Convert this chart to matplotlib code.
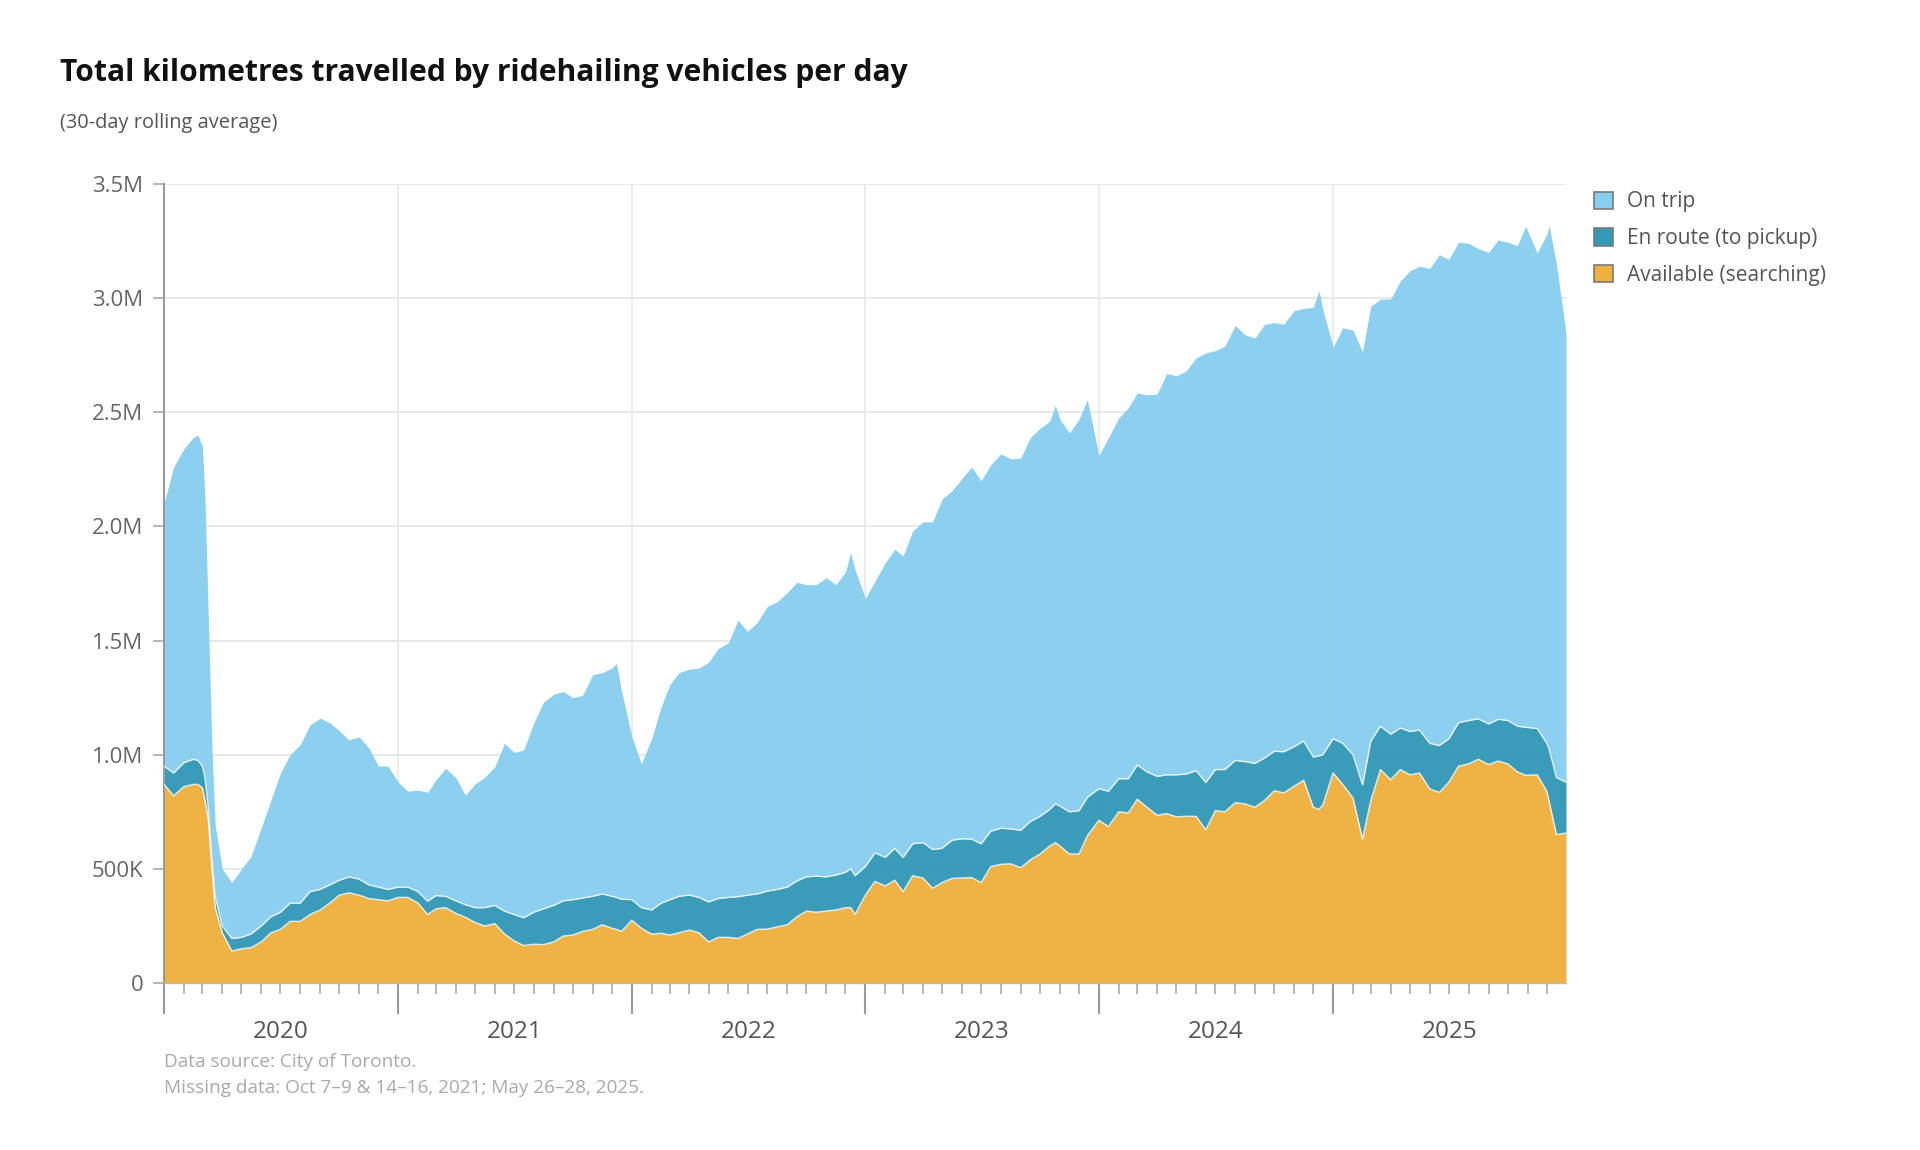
import numpy as np
import pandas as pd
import matplotlib
matplotlib.use("Agg")
import matplotlib.pyplot as plt
import matplotlib.dates as mdates
from matplotlib.patches import Patch
from matplotlib.ticker import FuncFormatter

plt.rcParams['font.family'] = ['Open Sans', 'DejaVu Sans']

# semi-monthly readings of the 30-day rolling average (thousands of km per day)
dates = pd.to_datetime([
    # 2020
    "2020-01-01", "2020-01-16", "2020-02-01", "2020-02-16", "2020-02-23", "2020-03-01", "2020-03-05",
    "2020-03-10", "2020-03-16", "2020-03-21", "2020-04-01", "2020-04-16", "2020-05-01", "2020-05-16",
    "2020-06-01", "2020-06-16", "2020-07-01", "2020-07-16", "2020-08-01", "2020-08-16", "2020-09-01",
    "2020-09-16", "2020-10-01", "2020-10-16", "2020-11-01", "2020-11-16", "2020-12-01", "2020-12-16",
    # 2021
    "2021-01-01", "2021-01-16", "2021-02-01", "2021-02-16", "2021-03-01", "2021-03-16", "2021-04-01",
    "2021-04-16", "2021-05-01", "2021-05-16", "2021-06-01", "2021-06-16", "2021-07-01", "2021-07-16",
    "2021-08-01", "2021-08-16", "2021-09-01", "2021-09-16", "2021-10-01", "2021-10-16", "2021-11-01",
    "2021-11-16", "2021-12-01", "2021-12-08", "2021-12-16",
    # 2022
    "2022-01-01", "2022-01-16", "2022-02-01", "2022-02-16", "2022-03-01", "2022-03-16", "2022-04-01",
    "2022-04-16", "2022-05-01", "2022-05-16", "2022-06-01", "2022-06-16", "2022-07-01", "2022-07-16",
    "2022-08-01", "2022-08-16", "2022-09-01", "2022-09-16", "2022-10-01", "2022-10-16", "2022-11-01",
    "2022-11-16", "2022-12-01", "2022-12-09", "2022-12-16",
    # 2023
    "2023-01-01", "2023-01-16", "2023-02-01", "2023-02-16", "2023-03-01", "2023-03-16", "2023-04-01",
    "2023-04-16", "2023-05-01", "2023-05-16", "2023-06-01", "2023-06-16", "2023-07-01", "2023-07-16",
    "2023-08-01", "2023-08-16", "2023-09-01", "2023-09-16", "2023-10-01", "2023-10-16", "2023-10-25",
    "2023-11-01", "2023-11-16", "2023-12-01", "2023-12-14",
    # 2024
    "2024-01-01", "2024-01-16", "2024-02-01", "2024-02-16", "2024-03-01", "2024-03-16", "2024-04-01",
    "2024-04-16", "2024-05-01", "2024-05-16", "2024-06-01", "2024-06-16", "2024-07-01", "2024-07-16",
    "2024-08-01", "2024-08-16", "2024-09-01", "2024-09-16", "2024-10-01", "2024-10-16", "2024-11-01",
    "2024-11-16", "2024-12-01", "2024-12-10", "2024-12-16",
    # 2025
    "2025-01-01", "2025-01-16", "2025-02-01", "2025-02-16", "2025-03-01", "2025-03-16", "2025-04-01",
    "2025-04-16", "2025-05-01", "2025-05-16", "2025-06-01", "2025-06-16", "2025-07-01", "2025-07-16",
    "2025-08-01", "2025-08-16", "2025-09-01", "2025-09-16", "2025-10-01", "2025-10-16", "2025-10-29",
    "2025-11-16", "2025-12-01", "2025-12-05", "2025-12-16", "2025-12-31",
])

available = [
    870, 820, 860, 870, 870, 855, 800, 720, 500, 330, 220, 140, 150, 155, 180, 220, 235, 270, 270, 300,
    320, 350, 385, 395, 385, 370, 365, 360,
    375, 375, 350, 300, 325, 330, 305, 288, 265, 250, 260, 215, 185, 164, 170, 168, 180, 206, 210, 226,
    235, 255, 240, 235, 226,
    275, 240, 214, 218, 210, 220, 232, 220, 180, 200, 200, 195, 215, 235, 236, 246, 255, 290, 315, 310,
    315, 320, 330, 330, 300,
    385, 445, 425, 450, 400, 470, 460, 415, 440, 458, 460, 462, 440, 510, 520, 522, 505, 540, 565, 600,
    615, 600, 565, 565, 645,
    713, 685, 750, 745, 805, 770, 735, 742, 728, 730, 730, 671, 755, 750, 790, 785, 770, 800, 842, 833,
    862, 888, 770, 760, 780,
    920, 870, 810, 630, 800, 935, 890, 935, 912, 920, 850, 835, 880, 950, 960, 980, 957, 972, 960, 925,
    910, 912, 840, 790, 650, 657,
]

en_route = [
    80, 100, 105, 110, 105, 95, 100, 55, 40, 50, 30, 55, 50, 60, 70, 70, 75, 80, 80, 100,
    90, 80, 65, 70, 70, 60, 55, 50,
    45, 45, 50, 58, 58, 50, 55, 55, 65, 80, 80, 100, 115, 122, 140, 157, 160, 154, 155, 146,
    145, 135, 140, 140, 141,
    90, 90, 106, 132, 154, 160, 153, 155, 175, 170, 175, 183, 170, 155, 167, 164, 165, 157, 150, 158,
    150, 153, 155, 170, 170,
    125, 125, 125, 140, 150, 140, 155, 170, 150, 167, 172, 168, 170, 155, 158, 153, 164, 168, 165, 160,
    170, 175, 185, 190, 168,
    138, 155, 145, 150, 150, 155, 170, 170, 184, 185, 200, 207, 180, 185, 185, 185, 192, 186, 173, 180,
    173, 172, 220, 235, 220,
    150, 180, 190, 238, 260, 190, 200, 182, 190, 188, 200, 205, 190, 190, 190, 177, 178, 183, 190, 200,
    210, 203, 210, 230, 250, 223,
]

on_trip = [
    1150, 1340, 1375, 1410, 1425, 1400, 1230, 845, 490, 310, 250, 245, 300, 340, 430, 510, 610, 650, 695, 730,
    750, 710, 655, 600, 623, 600, 530, 540,
    460, 420, 445, 477, 507, 560, 540, 480, 542, 570, 608, 735, 710, 734, 830, 905, 925, 917, 885, 888,
    970, 970, 1000, 1025, 913,
    715, 630, 750, 860, 941, 980, 990, 1005, 1050, 1095, 1115, 1212, 1155, 1190, 1247, 1260, 1290, 1308, 1280, 1277,
    1310, 1272, 1315, 1386, 1340,
    1175, 1190, 1290, 1310, 1320, 1370, 1405, 1435, 1530, 1530, 1578, 1630, 1590, 1605, 1640, 1621, 1631, 1682, 1700, 1700,
    1745, 1695, 1660, 1715, 1742,
    1459, 1550, 1580, 1625, 1630, 1651, 1675, 1758, 1748, 1765, 1808, 1882, 1835, 1855, 1905, 1870, 1863, 1899, 1878, 1873,
    1910, 1895, 1970, 2038, 1950,
    1715, 1820, 1860, 1897, 1905, 1871, 1906, 1958, 2018, 2032, 2080, 2150, 2100, 2105, 2090, 2060, 2065, 2100, 2095, 2105,
    2195, 2083, 2230, 2295, 2250, 1968,
]

labels = ["On trip", "En route (to pickup)", "Available (searching)"]
c_trip = "#88ceee"
c_route = "#3399b6"
c_avail = "#eeb13e"

a = np.array(available) * 1000.0
e = np.array(en_route) * 1000.0
o = np.array(on_trip) * 1000.0
top_a = a
top_e = a + e
top_o = a + e + o

fig = plt.figure(figsize=(19.2, 11.5), dpi=100)
ax = fig.add_axes([164 / 1920, 1 - 983 / 1150, (1566 - 164) / 1920, (983 - 184) / 1150])

ax.fill_between(dates, top_e, top_o, color=c_trip, alpha=0.97, lw=0, zorder=2)
ax.fill_between(dates, top_a, top_e, color=c_route, alpha=0.97, lw=0, zorder=2)
ax.fill_between(dates, 0, top_a, color=c_avail, alpha=0.97, lw=0, zorder=2)
ax.plot(dates, top_e, color="white", lw=1.0, alpha=0.8, zorder=3)
ax.plot(dates, top_a, color="white", lw=1.0, alpha=0.8, zorder=3)

ax.set_xlim(pd.Timestamp("2020-01-01"), pd.Timestamp("2025-12-31"))
ax.set_ylim(0, 3.5e6)

def fmt(v, pos):
    if v == 0:
        return "0"
    if v < 1e6:
        return f"{v / 1e3:.0f}K"
    return f"{v / 1e6:.1f}M"

ax.set_yticks(np.arange(0, 3.5e6 + 1, 5e5))
ax.yaxis.set_major_formatter(FuncFormatter(fmt))

ax.xaxis.set_major_locator(mdates.YearLocator())
ax.xaxis.set_minor_locator(mdates.MonthLocator(bymonth=range(2, 13)))
ax.xaxis.set_major_formatter(plt.NullFormatter())

ax.set_axisbelow(True)
ax.grid(axis="y", color="#e4e4e4", lw=1.2)
ax.grid(axis="x", which="major", color="#e8e8e8", lw=1.2)

for s in ["top", "right"]:
    ax.spines[s].set_visible(False)
ax.spines["left"].set_color("#9a9a9a")
ax.spines["left"].set_linewidth(1.5)
ax.spines["bottom"].set_color("#bbbbbb")
ax.spines["bottom"].set_linewidth(1.0)

ax.tick_params(axis="y", length=8, width=1.2, color="#aaaaaa", labelsize=16, labelcolor="#666666", pad=7)
ax.tick_params(axis="x", which="major", length=22, width=1.5, color="#9a9a9a")
ax.tick_params(axis="x", which="minor", length=8, width=1.2, color="#aaaaaa")

for yr in range(2020, 2026):
    ax.text(pd.Timestamp(f"{yr}-07-02"), -0.061, str(yr), transform=ax.get_xaxis_transform(),
            ha="center", va="center", fontsize=17.5, color="#555555")

fig.text(60 / 1920, 1 - 73 / 1150, "Total kilometres travelled by ridehailing vehicles per day",
         fontsize=21.6, fontweight="bold", color="#111111", va="center")
fig.text(60 / 1920, 1 - 123 / 1150, "(30-day rolling average)", fontsize=14.4, color="#555555", va="center")
fig.text(164 / 1920, 1 - 1062 / 1150, "Data source: City of Toronto.", fontsize=13.7, color="#aaaaaa", va="center")
fig.text(164 / 1920, 1 - 1088 / 1150, "Missing data: Oct 7\u20139 & 14\u201316, 2021; May 26\u201328, 2025.",
         fontsize=13.7, color="#aaaaaa", va="center")

handles = [Patch(facecolor=c, edgecolor="#7a7a7a", lw=1.2) for c in [c_trip, c_route, c_avail]]
fig.legend(handles, labels, loc="upper left", bbox_to_anchor=(1586 / 1920, 1 - 183 / 1150), frameon=False,
           fontsize=15, labelcolor="#555555", handlelength=0.9, handleheight=0.9, labelspacing=0.76,
           handletextpad=0.65, borderaxespad=0)

fig.savefig("out.png", dpi=100)
